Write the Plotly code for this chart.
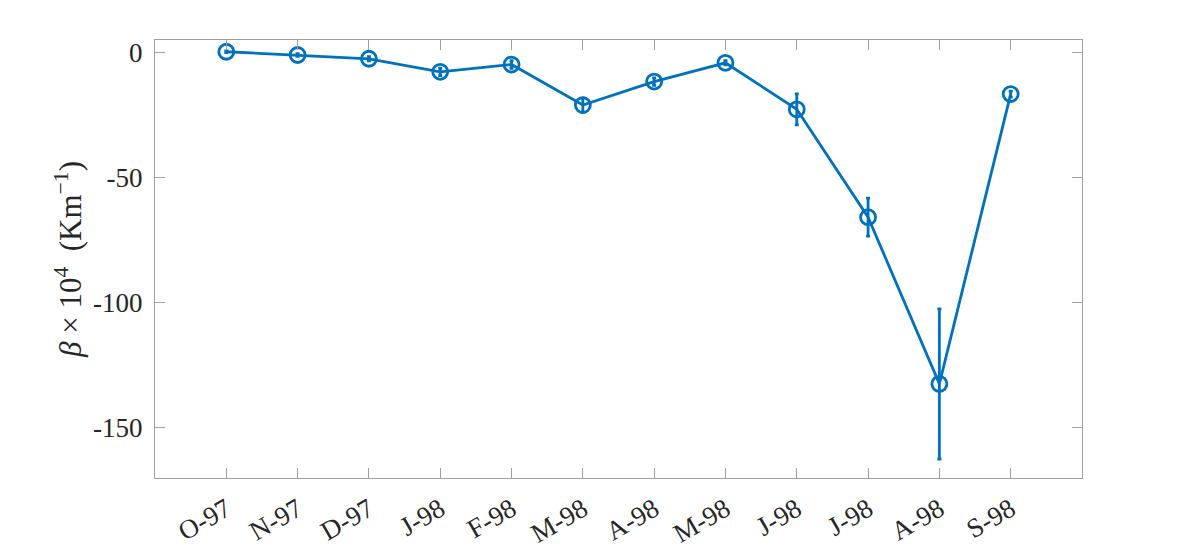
import plotly.graph_objects as go

BLUE = "#0072bd"
AXIS_GRAY = "#a0a0a0"
TEXT = "#262626"
SERIF = "Liberation Serif, Times New Roman, serif"

months = ["O-97", "N-97", "D-97", "J-98", "F-98", "M-98",
          "A-98", "M-98", "J-98", "J-98", "A-98", "S-98"]
beta = [0.3, -1.0, -2.5, -7.7, -4.8, -21.0, -11.6, -4.1, -22.7, -65.8, -132.4, -16.6]
beta_err = [0.3, 0.5, 0.8, 1.5, 1.5, 2.8, 1.5, 0.8, 6.2, 7.6, 30.0, 1.2]

idx = list(range(len(months)))

fig = go.Figure(go.Scatter(
    x=idx, y=beta, mode="lines+markers",
    line=dict(color=BLUE, width=2.8),
    marker=dict(symbol="circle-open", size=15, color=BLUE, line=dict(width=2.8, color=BLUE)),
    error_y=dict(type="data", array=beta_err, visible=True, color=BLUE, thickness=2.8, width=2),
))

AX = dict(
    showline=True, linecolor=AXIS_GRAY, linewidth=1, mirror="ticks",
    ticks="inside", tickcolor=AXIS_GRAY, ticklen=10, tickwidth=1,
    showgrid=False, zeroline=False, automargin=False,
    tickfont=dict(family=SERIF, size=27, color=TEXT),
)

# page body has an 8px margin, so offsets are shifted to land the axes box
fig.update_layout(
    width=1196, height=548,
    paper_bgcolor="white", plot_bgcolor="white",
    margin=dict(l=147, r=122, t=32, b=78),
    showlegend=False,
    font=dict(family=SERIF, color=TEXT, size=27),
    xaxis=dict(**AX, range=[-1, 12], tickvals=idx, ticktext=months, tickangle=-30,
               ticklabelstandoff=4),
    yaxis=dict(**AX, range=[-170, 5], tickvals=[0, -50, -100, -150],
               ticktext=["0", "-50", "-100", "-150"], ticklabelstandoff=6,
               title=dict(text="<i>β</i> × 10<sup>4</sup>  (Km<sup>−1</sup>)",
                          font=dict(family=SERIF, size=31, color=TEXT),
                          standoff=2)),
)

fig.write_html("out.html")
